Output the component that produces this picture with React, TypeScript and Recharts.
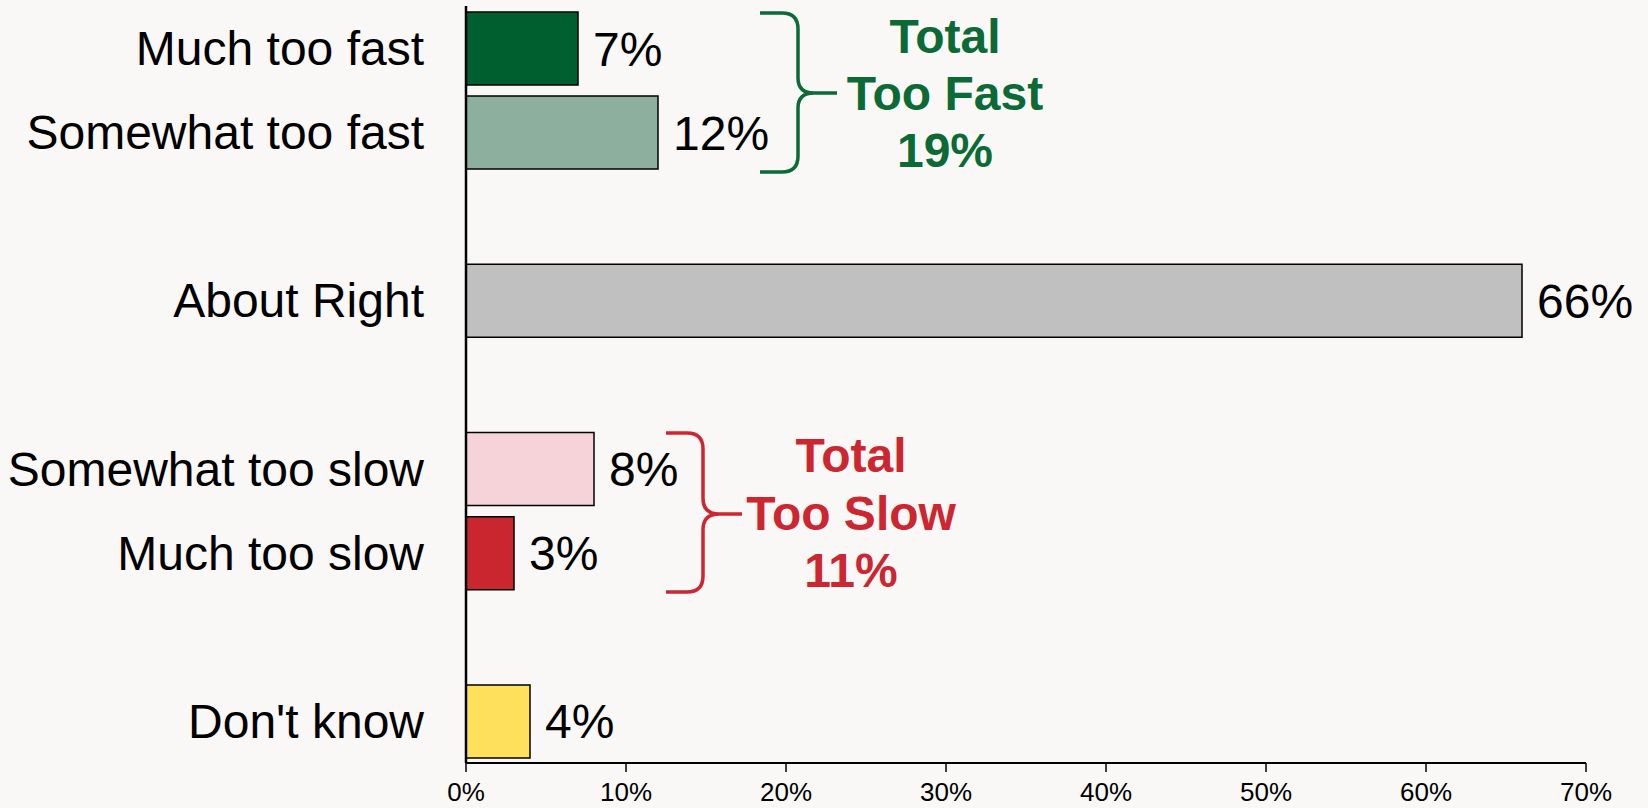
import { BarChart, Bar, XAxis, YAxis, Cell, LabelList } from 'recharts';

// Blank entries keep the empty slots between the answer groups
const categories = ['Much too fast', 'Somewhat too fast', ' ', 'About Right', '  ', 'Somewhat too slow', 'Much too slow', '   ', "Don't know"];
const shares: (number | null)[] = [7, 12, null, 66, null, 8, 3, null, 4];
const barColors = ['#005f2e', '#8cb09d', '#ffffff', '#c0c0c0', '#ffffff', '#f5d3d8', '#c9262f', '#ffffff', '#ffe05c'];
const xTicks = [0, 10, 20, 30, 40, 50, 60, 70];

const fastTotal = ['Total', 'Too Fast', '19%'];
const slowTotal = ['Total', 'Too Slow', '11%'];

const W = 1648;
const H = 808;
const FONT = '"Liberation Sans", Arial, sans-serif';

const chartData = categories.map((name, i) => ({ name, value: shares[i] }));

export default function App() {
  return (
    <div style={{ position: 'relative', width: W, height: H, background: '#f9f8f6', fontFamily: FONT }}>
      <style>{'body{margin:0}'}</style>
      <BarChart
        width={W}
        height={H}
        data={chartData}
        layout="vertical"
        margin={{ top: 6, right: 62, left: 0, bottom: 0 }}
      >
        <XAxis
          type="number"
          domain={[0, 70]}
          ticks={xTicks}
          tickFormatter={(v) => `${v}%`}
          height={45}
          tickSize={9}
          tickMargin={11}
          axisLine={{ stroke: '#000', strokeWidth: 2 }}
          tickLine={{ stroke: '#000', strokeWidth: 1.5 }}
          tick={{ fontSize: 26, fill: '#000', fontFamily: FONT }}
        />
        <YAxis
          type="category"
          dataKey="name"
          width={466}
          tickSize={0}
          tickMargin={42}
          tickLine={false}
          interval={0}
          axisLine={{ stroke: '#000', strokeWidth: 2.5 }}
          tick={{ fontSize: 48, fill: '#000', fontFamily: FONT }}
        />
        <Bar dataKey="value" barSize={73} stroke="#000" strokeWidth={1.5} isAnimationActive={false}>
          {chartData.map((d, i) => (
            <Cell key={i} fill={barColors[i]} />
          ))}
          <LabelList
            dataKey="value"
            position="right"
            offset={15}
            formatter={(v: any) => (v == null ? '' : `${v}%`)}
            style={{ fontSize: 48, fill: '#000', fontFamily: FONT }}
          />
        </Bar>
      </BarChart>

      {/* brace annotations */}
      <svg width={W} height={H} style={{ position: 'absolute', left: 0, top: 0, pointerEvents: 'none' }}>
        <path
          d="M760,13 L782,13 Q798,13 798,29 L798,78 Q798,93 814,93 L837,93 M814,93 Q798,93 798,108 L798,156 Q798,172 782,172 L760,172"
          fill="none"
          stroke="#0b6a35"
          strokeWidth={3.5}
        />
        {fastTotal.map((t, i) => (
          <text key={t} x={945} y={53 + i * 57} textAnchor="middle" fontSize={48} fontWeight="bold" fill="#0b6a35" fontFamily={FONT}>
            {t}
          </text>
        ))}
        <path
          d="M666,433 L687,433 Q703,433 703,449 L703,498 Q703,514 719,514 L742,514 M719,514 Q703,514 703,530 L703,576 Q703,592 687,592 L666,592"
          fill="none"
          stroke="#cc2630"
          strokeWidth={3.5}
        />
        {slowTotal.map((t, i) => (
          <text key={t} x={851} y={472 + i * 57.5} textAnchor="middle" fontSize={48} fontWeight="bold" fill="#cc2630" fontFamily={FONT}>
            {t}
          </text>
        ))}
      </svg>
    </div>
  );
}
